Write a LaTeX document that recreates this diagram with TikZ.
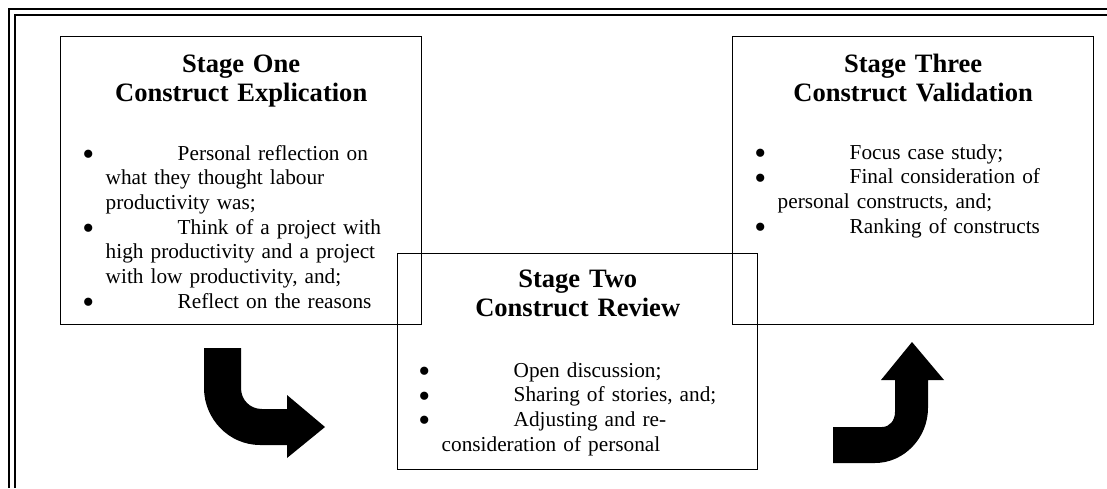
\documentclass[tikz,border=0pt]{standalone}
\usepackage{fontspec}
\setmainfont{Liberation Serif}
\usetikzlibrary{positioning}

\newcommand{\stagepoint}{\leavevmode\llap{\smash{\raisebox{-2.9pt}{\scalebox{1.6}{\textbullet}}}\hspace{6.3pt}}\hspace*{39.6pt}}

\begin{document}
\begin{tikzpicture}[
        x=0.55pt, y=-0.55pt,
        every path/.style={line width=0.8pt},
        stagebox/.style={draw, anchor=north west, inner sep=0pt, minimum width=198.5pt, minimum height=158.4pt},
        stagehead/.style={anchor=base, text width=190pt, align=center, inner sep=0pt, font=\fontsize{14.6}{16}\selectfont\bfseries},
        stagelist/.style={anchor=base west, text width=175pt, align=left, inner sep=0pt, font=\fontsize{11.7}{13.6}\selectfont},
        frameline/.style={line width=1.1pt},
        bigarrow/.style={fill=black, draw=none}
    ]
    \useasboundingbox (0,0) rectangle (1107,488);

    % Frame
    \draw[frameline] (9,488) |- (1107,9);
    \draw[frameline] (15,488) |- (1107,15);

    % Boxes
    \node (one) [stagebox] at (60,36) {};
    \node (two) [stagebox, minimum width=198pt, minimum height=118.8pt] at (397,253) {};
    \node (three) [stagebox] at (732,36) {};

    % Stage one
    \node (onehead) [stagehead] at (one.north |- 0,72) {Stage One\\ Construct Explication};
    \node (onelist) [stagelist] at (105,160) {%
        \stagepoint Personal reflection on\\ what they thought labour\\ productivity was;\\
        \stagepoint Think of a project with\\ high productivity and a project\\ with low productivity, and;\\
        \stagepoint Reflect on the reasons};

    % Stage two
    \node (twohead) [stagehead] at (two.north |- 0,287) {Stage Two\\ Construct Review};
    \node (twolist) [stagelist] at (441,377) {%
        \stagepoint Open discussion;\\
        \stagepoint Sharing of stories, and;\\
        \stagepoint Adjusting and re-\\ consideration of personal};

    % Stage three
    \node (threehead) [stagehead] at (three.north |- 0,72) {Stage Three\\ Construct Validation};
    \node (threelist) [stagelist] at (777,159) {%
        \stagepoint Focus case study;\\
        \stagepoint Final consideration of\\ personal constructs, and;\\
        \stagepoint Ranking of constructs};

    % Arrows
    \fill[bigarrow] (204,348) -- (204,388) .. controls (204,419) and (229,445) .. (260,445)
        -- (287,445) -- (287,458) -- (325,427) -- (287,395) -- (287,409) -- (262,409)
        .. controls (250,409) and (241,400) .. (241,388) -- (241,348) -- cycle;
    \fill[bigarrow] (833,427) -- (882,427) .. controls (890,427) and (895,420) .. (895,412)
        -- (895,380) -- (881,380) -- (912,342) -- (944,380) -- (928,380) -- (928,408)
        .. controls (928,438) and (904,463) .. (875,463) -- (833,463) -- cycle;

\end{tikzpicture}
\end{document}
